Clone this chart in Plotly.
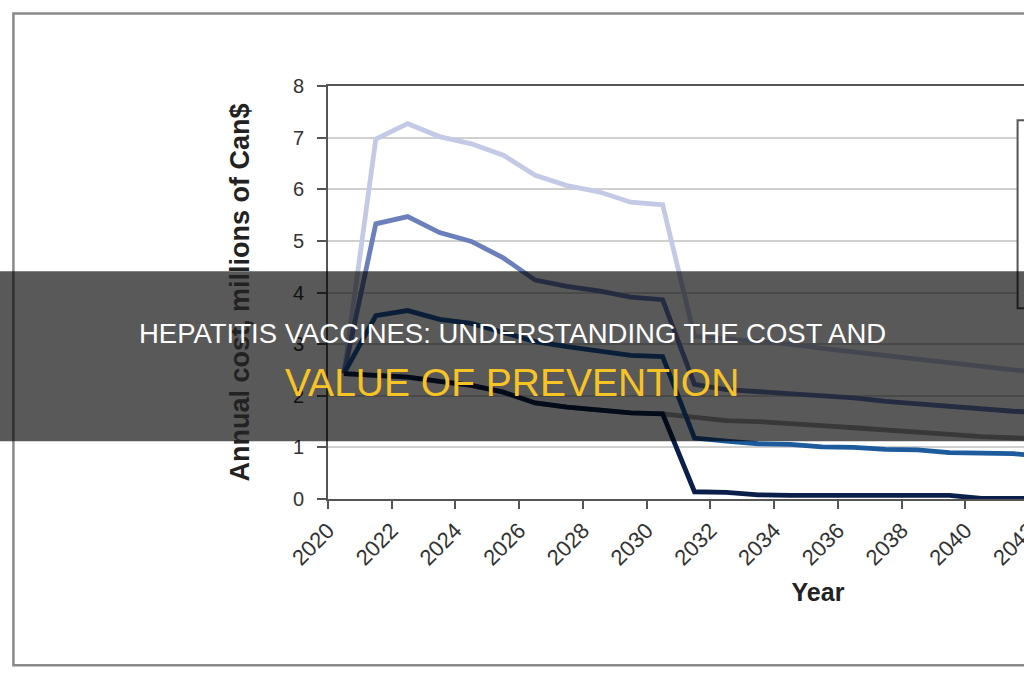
import plotly.graph_objects as go

# ---------------- data ----------------
years = list(range(2020, 2043))          # annual values, plotted at mid-year
series_1 = [2.43, 6.97, 7.27, 7.02, 6.88, 6.66, 6.27, 6.07, 5.95, 5.75, 5.70,
            3.15, 3.10, 3.05, 3.00, 2.92, 2.85, 2.77, 2.70, 2.63, 2.57, 2.50, 2.45]
series_2 = [2.43, 5.33, 5.47, 5.16, 4.99, 4.67, 4.24, 4.12, 4.03, 3.91, 3.86,
            2.22, 2.12, 2.08, 2.03, 2.00, 1.96, 1.89, 1.84, 1.78, 1.73, 1.70, 1.67]
series_3 = [2.43, 3.55, 3.65, 3.48, 3.40, 3.22, 3.05, 2.95, 2.86, 2.78, 2.76,
            1.18, 1.12, 1.07, 1.06, 1.01, 1.00, 0.96, 0.95, 0.90, 0.89, 0.88, 0.82]
series_4 = [2.43, 2.40, 2.36, 2.28, 2.20, 2.07, 1.86, 1.78, 1.72, 1.67, 1.65,
            0.14, 0.13, 0.08, 0.07, 0.07, 0.07, 0.07, 0.07, 0.07, 0.01, 0.01, 0.01]
series_5 = [2.43, 2.40, 2.36, 2.28, 2.20, 2.07, 1.86, 1.78, 1.72, 1.67, 1.65,
            1.58, 1.52, 1.50, 1.47, 1.42, 1.38, 1.33, 1.29, 1.25, 1.21, 1.18, 1.16]

y_ticks = [0, 1, 2, 3, 4, 5, 6, 7, 8]
x_title = "Year"
y_title = "Annual cost, millions of Can$"
banner_line_1 = "HEPATITIS VACCINES: UNDERSTANDING THE COST AND"
banner_line_2 = "VALUE OF PREVENTION"

# ---------------- geometry ----------------
W, H = 1330, 680
X0, X1 = 2020, 2050.75
PX_PER_YEAR = 31.88
L = 327.7
R = L + (X1 - X0) * PX_PER_YEAR
T = 85.7
B = 498.7


def pxx(px):
    return (px - L) / (R - L)


def pxy(py):
    return (B - py) / (B - T)


mid = [y + 0.5 for y in years]

colors = {
    "s1": "#c4cae6",
    "s2": "#6b7fbd",
    "s3": "#1d5b9d",
    "s4": "#0b1f4b",
    "s5": "#a0a0a0",
}

fig = go.Figure()
for vals, key in [(series_5, "s5"), (series_1, "s1"), (series_2, "s2"),
                  (series_3, "s3"), (series_4, "s4")]:
    fig.add_trace(go.Scatter(x=mid, y=vals, mode="lines",
                             line=dict(color=colors[key], width=4.8),
                             showlegend=False, hoverinfo="skip"))

FONT = "Liberation Sans, Arial, sans-serif"

fig.update_layout(
    width=W, height=H,
    margin=dict(l=L, r=W - R, t=T, b=H - B, autoexpand=False),
    paper_bgcolor="white", plot_bgcolor="white",
    font=dict(family=FONT, color="#333333"),
    showlegend=False,
    xaxis=dict(
        range=[X0, X1], tick0=2020, dtick=2, tickangle=-45,
        ticks="outside", ticklen=8, tickwidth=1.5, tickcolor="#555555",
        tickfont=dict(size=22, color="#333333", family=FONT),
        showline=True, linecolor="#555555", linewidth=2, mirror=True,
        showgrid=False, zeroline=False, automargin=False,
        title=dict(text=x_title, standoff=14,
                   font=dict(size=25, color="#222222", family=FONT, weight="bold")),
    ),
    yaxis=dict(
        range=[0, 8], tickvals=y_ticks,
        ticks="outside", ticklen=9, tickwidth=1.5, tickcolor="#555555",
        ticklabelstandoff=9,
        tickfont=dict(size=20, color="#333333", family=FONT),
        showline=True, linecolor="#555555", linewidth=2,
        showgrid=True, gridcolor="#d0d0d0", gridwidth=1.5, zeroline=False,
        automargin=False,
        title=dict(text=y_title, standoff=35,
                   font=dict(size=27, color="#222222", family=FONT, weight="bold")),
    ),
    shapes=[
        # outer frame of the figure picture
        dict(type="rect", xref="paper", yref="paper", layer="below",
             x0=pxx(13), x1=pxx(W + 20), y0=pxy(665), y1=pxy(13.3),
             line=dict(color="#8a8a8a", width=2.5), fillcolor="rgba(0,0,0,0)"),
        # legend box (mostly cropped)
        dict(type="rect", xref="paper", yref="paper", layer="above",
             x0=pxx(1017.5), x1=pxx(1290), y0=pxy(308), y1=pxy(120),
             line=dict(color="#555555", width=2), fillcolor="white"),
        # dark banner
        dict(type="rect", xref="paper", yref="paper", layer="above",
             x0=pxx(-10), x1=pxx(W + 10), y0=pxy(441), y1=pxy(271),
             line=dict(width=0), fillcolor="rgba(0,0,0,0.65)"),
    ],
    annotations=[
        dict(text=banner_line_1, xref="paper", yref="paper",
             x=pxx(512), y=pxy(333.5), xanchor="center", yanchor="middle",
             showarrow=False,
             font=dict(size=27.5, color="white", family=FONT)),
        dict(text=banner_line_2, xref="paper", yref="paper",
             x=pxx(512), y=pxy(382.5), xanchor="center", yanchor="middle",
             showarrow=False,
             font=dict(size=39, color="#f7c325", family=FONT)),
    ],
)

fig.write_html(
    "out.html",
    post_script=("document.documentElement.style.overflow='hidden';"
                 "document.body.style.overflow='hidden';"
                 "document.body.style.margin='0';"),
)
